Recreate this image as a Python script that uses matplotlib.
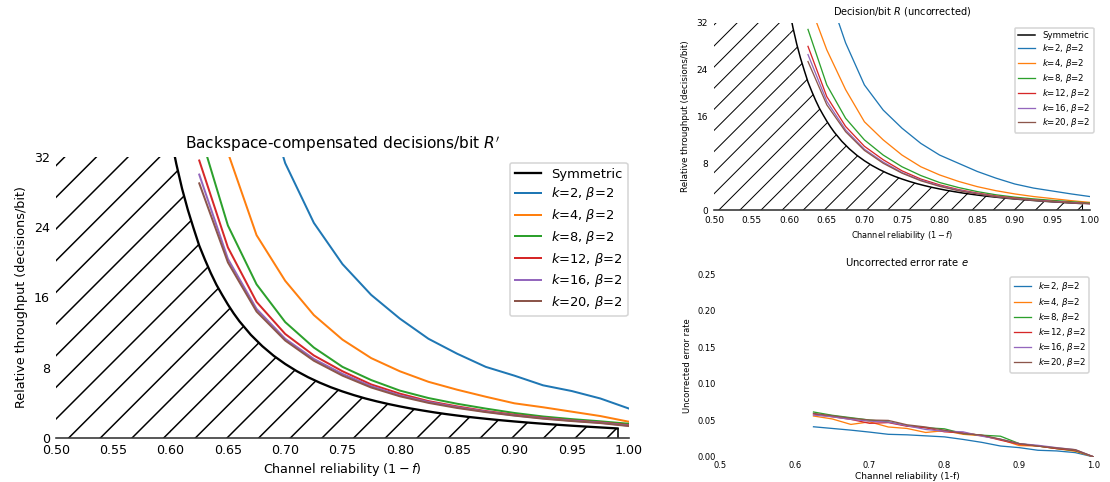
import numpy as np
import matplotlib
matplotlib.use('Agg')
import matplotlib.pyplot as plt

plt.rcParams['font.family'] = ['DejaVu Sans']
plt.rcParams['mathtext.fontset'] = 'dejavusans'

# ---------------- data ----------------
# Symmetric channel reference curve (channel reliability -> decisions/bit)
sym_x = [0.600, 0.605, 0.610, 0.615, 0.620, 0.625, 0.630, 0.635, 0.640, 0.645,
         0.650, 0.655, 0.660, 0.670, 0.680, 0.690, 0.700, 0.710, 0.720, 0.730,
         0.740, 0.750, 0.760, 0.770, 0.780, 0.790, 0.800, 0.810, 0.820, 0.830,
         0.840, 0.850, 0.860, 0.870, 0.880, 0.890, 0.900, 0.910, 0.920, 0.930,
         0.940, 0.950, 0.960, 0.970, 0.980, 0.990]
sym_y = [34.4, 31.2, 28.4, 26.0, 23.9, 21.9, 20.3, 18.8, 17.45, 16.3,
         15.2, 14.2, 13.3, 11.75, 10.46, 9.36, 8.43, 7.62, 6.92, 6.31,
         5.77, 5.30, 4.88, 4.50, 4.17, 3.87, 3.60, 3.35, 3.13, 2.92,
         2.73, 2.56, 2.40, 2.26, 2.125, 2.00, 1.883, 1.775, 1.673, 1.577,
         1.487, 1.401, 1.320, 1.241, 1.165, 1.088]

k_x = [0.625, 0.650, 0.675, 0.700, 0.725, 0.750, 0.775, 0.800,
       0.825, 0.850, 0.875, 0.900, 0.925, 0.950, 0.975, 1.000]
k_values = [2, 4, 8, 12, 16, 20]
nan = float('nan')

# Backspace-compensated decisions/bit R'
Rp_k2 = [nan, nan, 42.0, 31.3, 24.5, 19.8, 16.3, 13.6, 11.3, 9.6, 8.1, 7.1, 6.0, 5.35, 4.5, 3.35]
Rp_k4 = [nan, 32.5, 23.1, 17.9, 14.0, 11.2, 9.1, 7.6, 6.4, 5.5, 4.7, 3.95, 3.5, 3.0, 2.5, 1.85]
Rp_k8 = [35.0, 24.2, 17.5, 13.2, 10.3, 8.1, 6.6, 5.4, 4.55, 3.9, 3.35, 2.85, 2.45, 2.15, 1.9, 1.62]
Rp_k12 = [31.6, 21.7, 15.5, 11.85, 9.4, 7.6, 6.1, 5.05, 4.2, 3.6, 3.07, 2.65, 2.3, 2.0, 1.78, 1.47]
Rp_k16 = [30.0, 20.4, 14.7, 11.3, 9.0, 7.3, 5.9, 4.85, 4.1, 3.5, 3.0, 2.58, 2.25, 1.97, 1.74, 1.40]
Rp_k20 = [29.0, 20.0, 14.4, 11.1, 8.8, 7.1, 5.75, 4.75, 4.0, 3.42, 2.95, 2.55, 2.2, 1.93, 1.7, 1.36]

# Uncorrected decisions/bit R
R_k2 = [nan, 38.0, 28.6, 21.4, 17.1, 14.0, 11.4, 9.4, 8.0, 6.6, 5.45, 4.45, 3.75, 3.25, 2.75, 2.3]
R_k4 = [36.0, 27.4, 20.6, 15.1, 12.0, 9.4, 7.4, 6.0, 4.9, 4.0, 3.3, 2.75, 2.3, 1.95, 1.6, 1.3]
R_k8 = [30.9, 21.4, 15.7, 12.0, 9.4, 7.4, 5.9, 4.7, 3.85, 3.15, 2.6, 2.2, 1.9, 1.65, 1.42, 1.18]
R_k12 = [28.0, 19.4, 14.3, 10.9, 8.6, 6.7, 5.3, 4.3, 3.5, 2.9, 2.4, 2.05, 1.75, 1.5, 1.3, 1.1]
R_k16 = [26.6, 18.6, 13.7, 10.4, 8.2, 6.4, 5.1, 4.15, 3.4, 2.8, 2.3, 1.95, 1.68, 1.45, 1.25, 1.07]
R_k20 = [25.4, 18.0, 13.4, 10.2, 8.0, 6.3, 5.0, 4.05, 3.3, 2.75, 2.27, 1.92, 1.65, 1.42, 1.22, 1.05]

# Uncorrected error rate e
e_k2 = [0.0413, 0.0390, 0.0367, 0.0340, 0.0310, 0.0303, 0.0289, 0.0275,
        0.0240, 0.0200, 0.0150, 0.0128, 0.0092, 0.0083, 0.0060, 0.0]
e_k4 = [0.0560, 0.0520, 0.0445, 0.0480, 0.0410, 0.0390, 0.0335, 0.0360,
        0.0310, 0.0290, 0.0240, 0.0156, 0.0150, 0.0115, 0.0078, 0.0]
e_k8 = [0.0615, 0.0570, 0.0537, 0.0505, 0.0480, 0.0427, 0.0400, 0.0385,
        0.0320, 0.0298, 0.0284, 0.0183, 0.0150, 0.0115, 0.0087, 0.0]
e_k12 = [0.0587, 0.0550, 0.0514, 0.0460, 0.0470, 0.0420, 0.0400, 0.0344,
         0.0330, 0.0294, 0.0230, 0.0174, 0.0150, 0.0115, 0.0092, 0.0]
e_k16 = [0.0573, 0.0550, 0.0514, 0.0490, 0.0477, 0.0427, 0.0376, 0.0353,
         0.0344, 0.0284, 0.0243, 0.0183, 0.0160, 0.0128, 0.0100, 0.0]
e_k20 = [0.0596, 0.0564, 0.0530, 0.0505, 0.0500, 0.0440, 0.0410, 0.0367,
         0.0320, 0.0300, 0.0243, 0.0183, 0.0150, 0.0124, 0.0100, 0.0]

colors = ['#1f77b4', '#ff7f0e', '#2ca02c', '#d62728', '#9467bd', '#8c564b']

thr_xticks = [0.50, 0.55, 0.60, 0.65, 0.70, 0.75, 0.80, 0.85, 0.90, 0.95, 1.00]
thr_yticks = [0, 8, 16, 24, 32]
err_xticks = [0.5, 0.6, 0.7, 0.8, 0.9, 1.0]
err_yticks = [0.00, 0.05, 0.10, 0.15, 0.20, 0.25]

# ---------------- figure ----------------
DPI = 190
F = 144.0 / DPI          # sizes below are expressed on a 144-dpi basis


def P(v):
    return v * F


fig = plt.figure(figsize=(1110 / DPI, 482 / DPI), dpi=DPI)

ax1 = fig.add_axes([56 / 1110, 1 - 438 / 482, 573 / 1110, 281 / 482])
ax2 = fig.add_axes([714 / 1110, 1 - 210 / 482, 376 / 1110, 187 / 482])
ax3 = fig.add_axes([720 / 1110, 1 - 457 / 482, 374 / 1110, 183 / 482])


def hatched(ax, hatch, hlw):
    with plt.rc_context({'hatch.linewidth': hlw}):
        p1 = ax.axvspan(thr_xticks[0], sym_x[0], facecolor='none',
                        edgecolor='black', hatch=hatch, linewidth=0)
        p2 = ax.fill_between(sym_x, 0, sym_y, facecolor='none',
                             edgecolor='black', hatch=hatch, linewidth=0)
    for p in (p1, p2):
        if hasattr(p, 'set_hatch_linewidth'):
            p.set_hatch_linewidth(hlw)


def style_legend(leg):
    leg.get_frame().set_edgecolor('#cccccc')
    leg.get_frame().set_linewidth(P(0.8))


def throughput(ax, series, title, fs_tick, fs_xlabel, fs_ylabel, fs_title,
               fs_leg, lw, sym_lw, anchor, hatch, hlw, lspace):
    ax.set_xlim(thr_xticks[0], thr_xticks[-1])
    ax.set_ylim(thr_yticks[0], thr_yticks[-1])
    hatched(ax, hatch, hlw)
    ax.plot(sym_x, sym_y, color='black', lw=P(sym_lw), label='Symmetric')
    ax.vlines(sym_x[-1], 0, sym_y[-1], color='black', lw=P(sym_lw * 0.7))
    for k, vals, c in zip(k_values, series, colors):
        ax.plot(k_x, vals, color=c, lw=P(lw), label='$k$=%d, $\\beta$=2' % k)
    ax.set_xticks(thr_xticks)
    ax.set_xticklabels(['%.2f' % v for v in thr_xticks])
    ax.set_yticks(thr_yticks)
    ax.tick_params(length=0, labelsize=P(fs_tick), pad=P(3))
    for s in ['top', 'right', 'left']:
        ax.spines[s].set_visible(False)
    ax.spines['bottom'].set_color('#333333')
    ax.spines['bottom'].set_linewidth(P(0.8))
    ax.set_title(title, fontsize=P(fs_title), pad=P(4))
    ax.set_xlabel('Channel reliability $(1-f)$', fontsize=P(fs_xlabel),
                  labelpad=P(2))
    ax.set_ylabel('Relative throughput (decisions/bit)', fontsize=P(fs_ylabel),
                  labelpad=P(3))
    leg = ax.legend(loc='upper right', bbox_to_anchor=anchor,
                    fontsize=P(fs_leg), frameon=True, borderaxespad=0,
                    labelspacing=lspace)
    style_legend(leg)


throughput(ax1, [Rp_k2, Rp_k4, Rp_k8, Rp_k12, Rp_k16, Rp_k20],
           "Backspace-compensated decisions/bit $R'$",
           6.3, 6.4, 6.4, 7.7, 6.5, 1.0, 1.15, (0.998, 0.98), '//', 0.57, 0.36)
throughput(ax2, [R_k2, R_k4, R_k8, R_k12, R_k16, R_k20],
           "Decision/bit $R$ (uncorrected)",
           4.5, 4.1, 4.4, 4.9, 4.3, 0.65, 0.75, (1.01, 0.975), '///', 0.38, 0.22)

# error rate chart
for k, vals, c in zip(k_values, [e_k2, e_k4, e_k8, e_k12, e_k16, e_k20], colors):
    ax3.plot(k_x, vals, color=c, lw=P(0.65), label='$k$=%d, $\\beta$=2' % k)
ax3.set_xlim(err_xticks[0], err_xticks[-1])
ax3.set_ylim(err_yticks[0], err_yticks[-1])
ax3.set_xticks(err_xticks)
ax3.set_yticks(err_yticks)
ax3.tick_params(length=0, labelsize=P(4.2), pad=P(2))
for s in ax3.spines.values():
    s.set_visible(False)
ax3.set_title('Uncorrected error rate $e$', fontsize=P(5.0), pad=P(4))
ax3.set_xlabel('Channel reliability (1-f)', fontsize=P(4.5), labelpad=P(1))
ax3.set_ylabel('Uncorrected error rate', fontsize=P(4.2), labelpad=P(3))
leg3 = ax3.legend(loc='upper right', bbox_to_anchor=(0.987, 0.984),
                  fontsize=P(4.3), frameon=True, borderaxespad=0,
                  labelspacing=0.25)
style_legend(leg3)

fig.savefig('out.png', dpi=DPI)
